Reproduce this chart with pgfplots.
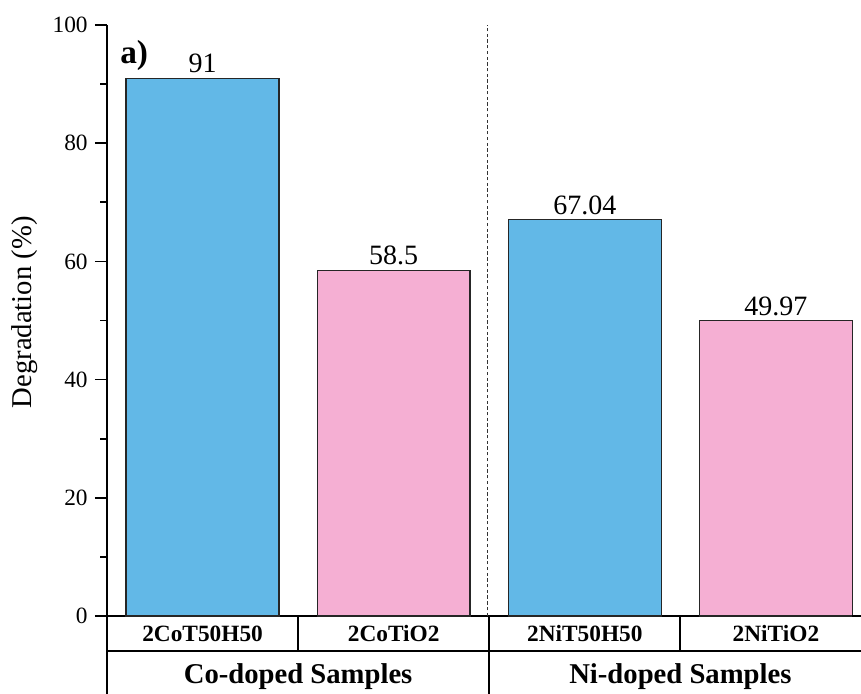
\documentclass[border=0pt]{standalone}
\usepackage{fontspec}
\setmainfont{Liberation Serif}
\usepackage{pgfplots}
\pgfplotsset{compat=1.18}
\usetikzlibrary{calc}
\definecolor{cblue}{HTML}{62B8E7}
\definecolor{cpink}{HTML}{F5AFD3}
\begin{document}
\begin{tikzpicture}
\begin{axis}[name=ax, scale only axis, width=565.5pt, height=443.25pt,
 xmin=-0.5, xmax=3.445, ymin=0, ymax=100, clip=false,
 axis x line=bottom, axis y line=left, axis line style={-, line width=1.4pt, black},
 ytick={0,20,...,100}, minor y tick num=1, tick align=outside,
 major tick length=9pt, minor tick length=5pt,
 tick style={line width=1.3pt, black},
 xtick={0,1,2,3}, xticklabels={2CoT50H50,2CoTiO2,2NiT50H50,2NiTiO2},
 xtick style={draw=none},
 xticklabel style={font=\fontsize{17.5}{20}\selectfont\bfseries, anchor=base, yshift=-10.5pt},
 yticklabel style={font=\fontsize{17.5}{19}\selectfont, xshift=-2pt},
 /pgf/number format/assume math mode=true,
 point meta=explicit symbolic,
 nodes near coords={\pgfplotspointmeta},
 nodes near coords style={font=\fontsize{21}{23}\selectfont, anchor=base, inner sep=0pt, yshift=4pt},
]
\addplot[ybar, bar width=0.8, bar shift=0pt, fill=cblue, draw=black!85, line width=1pt]
  coordinates {(0,91) [91] (2,67.04) [67.04]};
\addplot[ybar, bar width=0.8, bar shift=0pt, fill=cpink, draw=black!85, line width=1pt]
  coordinates {(1,58.5) [58.5] (3,49.97) [49.97]};
% table lines
\draw[line width=1.4pt] (axis cs:-0.5,-5.92) -- (axis cs:3.6,-5.92);
\draw[line width=1.4pt] (axis cs:3.4,0) -- (axis cs:3.6,0);
\draw[line width=1.4pt] (axis cs:-0.5,0) -- (axis cs:-0.5,-14);
\draw[line width=1.4pt] (axis cs:0.5,0) -- (axis cs:0.5,-5.92);
\draw[line width=1.4pt] (axis cs:2.5,0) -- (axis cs:2.5,-5.92);
\draw[line width=1.4pt] (axis cs:1.5,0) -- (axis cs:1.5,-14);
\draw[black!80, line width=0.8pt, dash pattern=on 2.5pt off 1.8pt] (axis cs:1.492,0) -- (axis cs:1.492,100);
\node[font=\fontsize{21.5}{24}\selectfont\bfseries, anchor=base] at (axis cs:0.5,-11.34) {Co-doped Samples};
\node[font=\fontsize{21.5}{24}\selectfont\bfseries, anchor=base] at (axis cs:2.5,-11.34) {Ni-doped Samples};
\node[font=\fontsize{25}{27}\selectfont\bfseries, anchor=base west, inner sep=0pt] at (axis cs:-0.432,93.4) {a)};
\node[font=\fontsize{21.5}{23}\selectfont, rotate=90, anchor=center] at ($(rel axis cs:0,0.514)+(-61.5pt,0pt)$) {Degradation (\%)};
\end{axis}
\pgfresetboundingbox
\path[use as bounding box] ($(ax.south west)+(-80.25pt,-58.5pt)$) rectangle ($(ax.north east)+(0pt,18.75pt)$);
\end{tikzpicture}
\end{document}
